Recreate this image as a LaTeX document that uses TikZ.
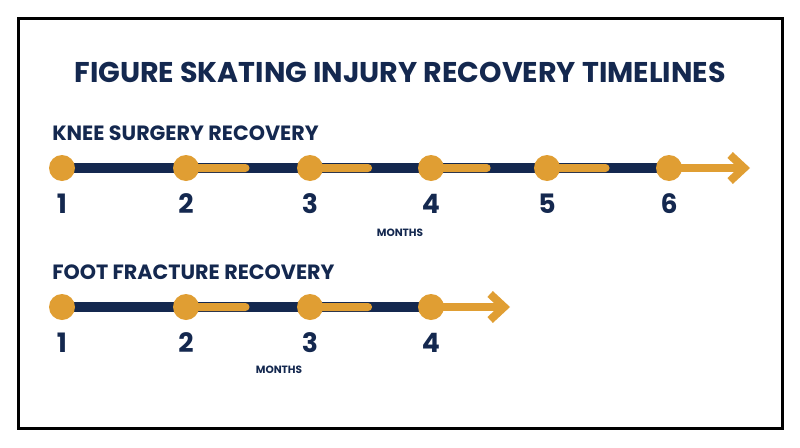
\documentclass[tikz,border=0pt]{standalone}
\usepackage{fontspec}
\setmainfont{Poppins}
\usetikzlibrary{arrows.meta,calc}
\definecolor{navy}{HTML}{14284F}
\definecolor{gold}{HTML}{E09E33}
\begin{document}
\begin{tikzpicture}[x=0.025cm,y=-0.025cm,%%
  dotStyle/.style={circle,fill=gold,minimum size=26*0.025cm,inner sep=0pt},%%
  navyStyle/.style={navy,line width=10*0.025cm},%%
  goldStyle/.style={gold,line width=8*0.025cm},%%
  numStyle/.style={text=navy,font=\bfseries\fontsize{19}{19}\selectfont},%%
  headStyle/.style={text=navy,font=\bfseries\fontsize{14.7}{14.7}\selectfont,anchor=west,inner sep=0pt},%%
  monthStyle/.style={text=navy,font=\bfseries\fontsize{7.5}{7.5}\selectfont}%%
]
%%
\useasboundingbox (0,0) rectangle (800,447);
\draw[line width=3*0.025cm] (18,18) rectangle (782,428);
%%
\node[text=navy,font=\bfseries\fontsize{20.3}{20.3}\selectfont] (title) at (400,72) {FIGURE SKATING INJURY RECOVERY TIMELINES};
%%
%% Knee surgery timeline.
\node[headStyle] (kneeHead) at (52,133) {KNEE SURGERY RECOVERY};
\foreach \i/\x in {1/62,2/186,3/310,4/431,5/547,6/669}
  \coordinate (k\i) at (\x,168);
\coordinate (kEnd) at (750,168);
\draw[navyStyle] (k1) -- (k6);
\foreach \i/\j in {2/3,3/4,4/5,5/6}
  \draw[goldStyle,line cap=round] (k\i) -- ($(k\i)!0.48!(k\j)$);
\draw[goldStyle,-{Straight Barb[length=14*0.025cm,width=26*0.025cm]}] (k6) -- (kEnd);
\foreach \i in {1,...,6} {
  \node[dotStyle] (kDot\i) at (k\i) {};
  \node[numStyle] (kNum\i) at ([yshift=-36*0.025cm]k\i) {\i};
}
\node[monthStyle] (kMonths) at (400,233) {MONTHS};
%%
%% Foot fracture timeline.
\node[headStyle] (footHead) at (52,272) {FOOT FRACTURE RECOVERY};
\foreach \i/\x in {1/62,2/186,3/310,4/431}
  \coordinate (f\i) at (\x,307);
\coordinate (fEnd) at (510,307);
\draw[navyStyle] (f1) -- (f4);
\foreach \i/\j in {2/3,3/4}
  \draw[goldStyle,line cap=round] (f\i) -- ($(f\i)!0.48!(f\j)$);
\draw[goldStyle,-{Straight Barb[length=14*0.025cm,width=26*0.025cm]}] (f4) -- (fEnd);
\foreach \i in {1,...,4} {
  \node[dotStyle] (fDot\i) at (f\i) {};
  \node[numStyle] (fNum\i) at ([yshift=-36*0.025cm]f\i) {\i};
}
\node[monthStyle] (fMonths) at (279,370) {MONTHS};
\end{tikzpicture}
\end{document}
